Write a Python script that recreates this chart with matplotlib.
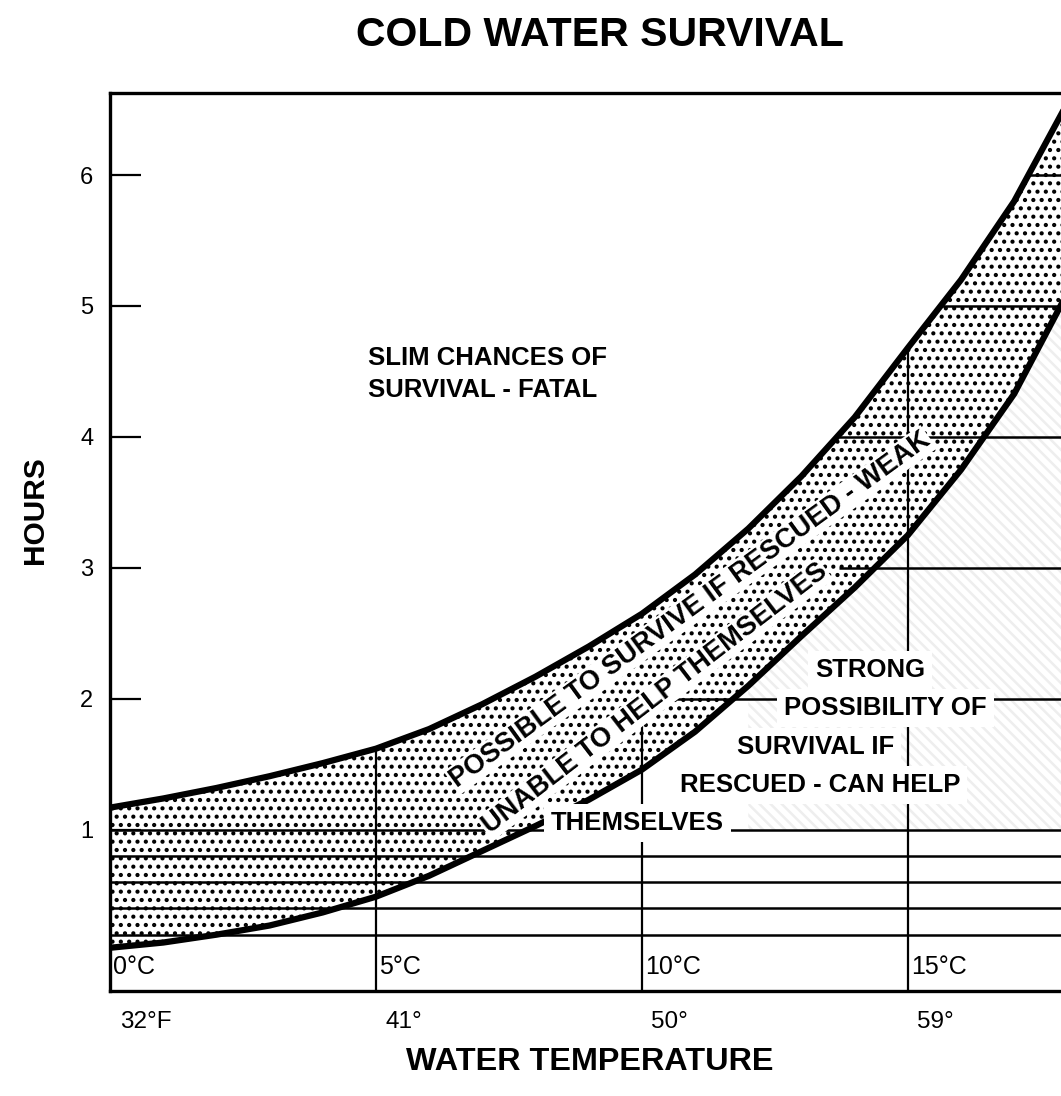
import matplotlib.pyplot as plt
import numpy as np

plt.rcParams['font.family'] = ['Liberation Sans', 'DejaVu Sans']
plt.rcParams['hatch.linewidth'] = 1.8

# water temperature (deg C) and the two survival boundaries (hours)
temps_c = [0, 1, 2, 3, 4, 5, 6, 7, 8, 9, 10, 11, 12, 13, 14, 15, 16, 17, 18]
upper_hours = [1.17, 1.24, 1.32, 1.41, 1.51, 1.62, 1.77, 1.96, 2.17, 2.40,
               2.65, 2.95, 3.30, 3.70, 4.15, 4.68, 5.20, 5.80, 6.55]
lower_hours = [0.10, 0.14, 0.20, 0.27, 0.37, 0.49, 0.65, 0.84, 1.03, 1.23,
               1.46, 1.75, 2.10, 2.48, 2.85, 3.25, 3.75, 4.33, 5.10]

tick_temps = [0, 5, 10, 15]
celsius_labels = ['0°C', '5°C', '10°C', '15°C']
fahrenheit_labels = ['32°F', '41°', '50°', '59°']
hour_ticks = [1, 2, 3, 4, 5, 6]

fine_lines = [0.2, 0.4, 0.6, 0.8, 1.0]
hour_lines = [2, 3, 4, 5, 6]
hour_line_starts = [10.4, 13.7, 13.7, 15.6, 17.3]
vline_temps = [5, 10, 15]
vline_tops = [1.62, 2.0, 4.68]

fig = plt.figure(figsize=(10.61, 10.96), dpi=100)
ax = fig.add_axes([0.1037, 0.0958, 0.9274, 0.8198])
ax.set_xlim(0, 18.5)
ax.set_ylim(-0.23, 6.63)

# shaded band and faint texture on the "strong possibility" side
ax.fill_between(temps_c, lower_hours, upper_hours, facecolor='white',
                edgecolor='black', hatch='..', linewidth=0, zorder=1)
ax.fill_between(temps_c[12:], [1.0] * 7, lower_hours[12:], facecolor='none',
                edgecolor='#eeeeee', hatch='\\\\\\', linewidth=0, zorder=0.5)

# grid lines
ax.hlines(fine_lines, 0, 18.5, color='black', lw=1.8, zorder=2)
ax.hlines(hour_lines, hour_line_starts, 18.5, color='black', lw=1.8, zorder=2)
ax.vlines(vline_temps, -0.23, vline_tops, color='black', lw=1.6, zorder=2)

# boundary curves
ax.plot(temps_c, upper_hours, color='black', lw=4.5, zorder=3, solid_joinstyle='round')
ax.plot(temps_c, lower_hours, color='black', lw=4.5, zorder=3, solid_joinstyle='round')

for sp in ['left', 'top', 'bottom']:
    ax.spines[sp].set_linewidth(2.4)
ax.spines['right'].set_visible(False)

ax.set_yticks(hour_ticks)
ax.set_yticklabels([str(h) for h in hour_ticks], fontsize=17)
ax.tick_params(axis='y', direction='in', length=22, width=1.6, pad=12)
ax.set_xticks([])

for t, c_lab, f_lab in zip(tick_temps, celsius_labels, fahrenheit_labels):
    ax.text(t + 0.06, -0.05, c_lab, fontsize=18, ha='left', va='center', zorder=4)
    ax.text(t + 0.18, -0.47, f_lab, fontsize=17.5, ha='left', va='center', clip_on=False)

bold = dict(fontsize=18.5, fontweight='bold', zorder=5)
box = dict(facecolor='white', edgecolor='none', pad=1)

ax.text(4.85, 4.48, 'SLIM CHANCES OF\nSURVIVAL - FATAL', ha='left', va='center',
        linespacing=1.4, **bold)
ax.text(10.91, 2.68, 'POSSIBLE TO SURVIVE IF RESCUED - WEAK', rotation=36,
        ha='center', va='center', bbox=box, rotation_mode='anchor',
        fontsize=19.5, fontweight='bold', zorder=2.5)
ax.text(10.24, 2.00, 'UNABLE TO HELP THEMSELVES', rotation=37.5,
        ha='center', va='center', bbox=box, rotation_mode='anchor',
        fontsize=19.5, fontweight='bold', zorder=2.5)

side_box = dict(facecolor='white', edgecolor='none', pad=5)
ax.text(14.29, 2.22, 'STRONG', ha='center', va='center', bbox=side_box, **bold)
ax.text(14.58, 1.93, 'POSSIBILITY OF', ha='center', va='center', bbox=side_box, **bold)
ax.text(13.26, 1.63, 'SURVIVAL IF', ha='center', va='center', bbox=side_box, **bold)
ax.text(13.35, 1.34, 'RESCUED - CAN HELP', ha='center', va='center', bbox=side_box, **bold)
ax.text(9.92, 1.05, 'THEMSELVES', ha='center', va='center', bbox=side_box, **bold)

fig.text(0.565, 0.968, 'COLD WATER SURVIVAL', ha='center', va='center',
         fontsize=29.5, fontweight='bold')
fig.text(0.556, 0.031, 'WATER TEMPERATURE', ha='center', va='center',
         fontsize=23.3, fontweight='bold')
fig.text(0.033, 0.535, 'HOURS', ha='center', va='center', rotation=90,
         fontsize=21.5, fontweight='bold')

fig.savefig('out.png', dpi=100)
